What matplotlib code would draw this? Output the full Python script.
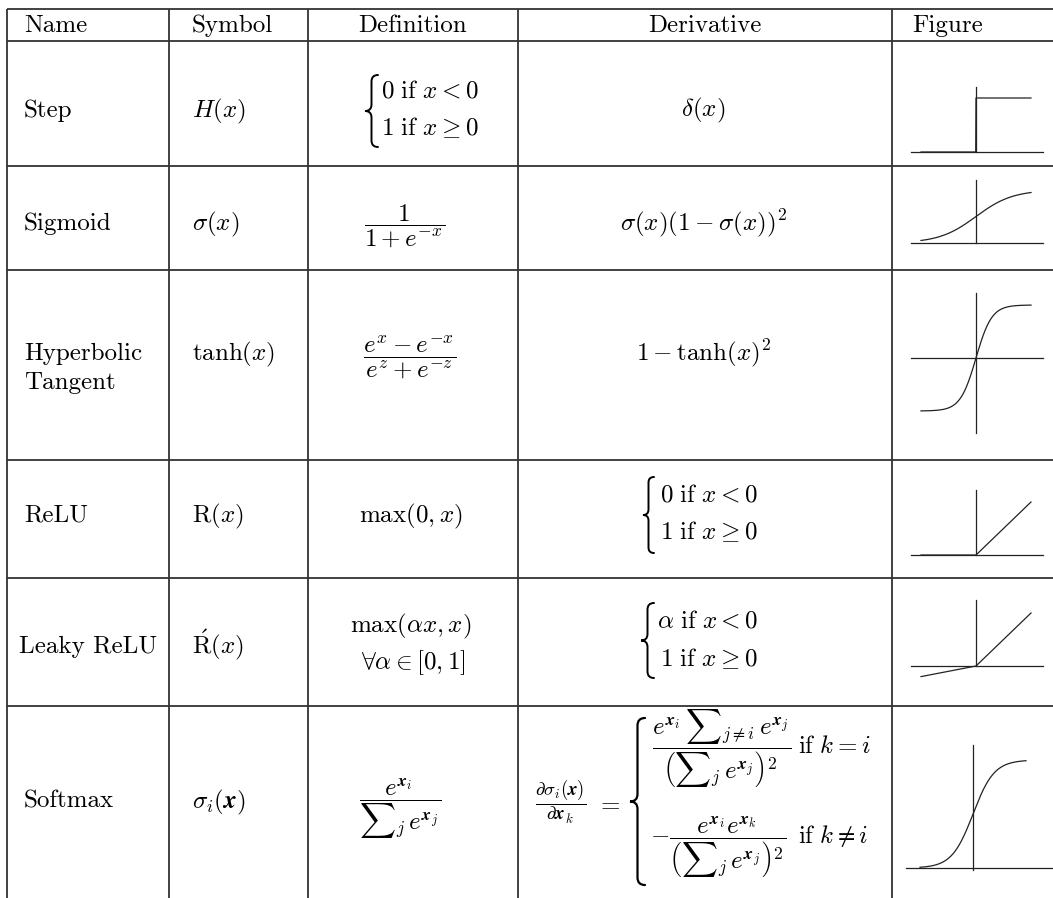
import numpy as np
import matplotlib as mpl
import matplotlib.pyplot as plt
from matplotlib.path import Path
from matplotlib.patches import PathPatch

mpl.rcParams['mathtext.fontset'] = 'cm'
mpl.rcParams['axes.unicode_minus'] = False

W, H = 1053, 898
FS = 18
INK = '#000000'
RULE = '#333333'

# table content
headers = ['Name', 'Symbol', 'Definition', 'Derivative', 'Figure']
names = ['Step', 'Sigmoid', 'Hyperbolic\nTangent', 'ReLU', 'Leaky ReLU', 'Softmax']
symbols = [r'$H(x)$', r'$\sigma(x)$', r'$\tanh(x)$', r'$\mathrm{R}(x)$',
           r'$\acute{\mathrm{R}}(x)$', r'$\sigma_i(\mathbfit{x})$']
step_def = [r'$0\ \mathrm{if}\ x < 0$', r'$1\ \mathrm{if}\ x \geq 0$']
sigmoid_def = r'$\dfrac{1}{1+e^{-x}}$'
tanh_def = r'$\dfrac{e^{x}-e^{-x}}{e^{z}+e^{-z}}$'
relu_def = r'$\max(0,x)$'
leaky_def = [r'$\max(\alpha x,x)$', r'$\forall\alpha\in[0,1]$']
softmax_def = r'$\dfrac{e^{\mathbfit{x}_i}}{{\sum}_j\, e^{\mathbfit{x}_j}}$'
step_der = r'$\delta(x)$'
sigmoid_der = r'$\sigma(x)(1-\sigma(x))^2$'
tanh_der = r'$1-\tanh(x)^2$'
relu_der = [r'$0\ \mathrm{if}\ x < 0$', r'$1\ \mathrm{if}\ x \geq 0$']
leaky_der = [r'$\alpha\ \mathrm{if}\ x < 0$', r'$1\ \mathrm{if}\ x \geq 0$']
softmax_der_lhs = r'$\dfrac{\partial\sigma_i(\mathbfit{x})}{\partial \mathbfit{x}_k}$'
softmax_der_cases = [
    r'$\dfrac{e^{\mathbfit{x}_i}\,{\sum}_{j\neq i}\, e^{\mathbfit{x}_j}}'
    r'{\left({\sum}_j\, e^{\mathbfit{x}_j}\right)^2}$',
    r'$-\dfrac{e^{\mathbfit{x}_i}e^{\mathbfit{x}_k}}'
    r'{\left({\sum}_j\, e^{\mathbfit{x}_j}\right)^2}$',
]
softmax_der_conds = [r'$\mathrm{if}\ k=i$', r'$\mathrm{if}\ k\neq i$']

# curve parameters for the little figures
SIGMOID_GAIN = 3.0
TANH_GAIN = 3.5
SOFTMAX_GAIN = 5.0
LEAKY_ALPHA = 0.2

# layout (pixels)
col_x = [7, 169, 308, 518, 892]
row_y = [9, 41, 166, 270, 460, 578, 706]
row_base = [117, 230, 360, 522, 653, 808]


fig = plt.figure(figsize=(W / 100, H / 100), dpi=100)
ax = fig.add_axes([0, 0, 1, 1])
ax.set_xlim(0, W)
ax.set_ylim(H, 0)
ax.axis('off')

ax.hlines(row_y, col_x[0], W, color=RULE, lw=1.3)
ax.vlines(col_x, row_y[0], H, color=RULE, lw=1.3)


def txt(x, y, s, ha='left', size=FS):
    ax.text(x, y, s, ha=ha, va='baseline', fontsize=size,
            fontfamily='cmr10', color=INK)


def brace(x_tip, x_end, y_top, y_bot, lw=1.4):
    xm = (x_tip + x_end) / 2
    r = x_end - xm
    ym = (y_top + y_bot) / 2
    verts = [(x_end, y_top), (xm, y_top), (xm, y_top + r),
             (xm, ym - r), (xm, ym), (x_tip, ym),
             (xm, ym), (xm, ym + r),
             (xm, y_bot - r), (xm, y_bot), (x_end, y_bot)]
    codes = [Path.MOVETO, Path.CURVE3, Path.CURVE3,
             Path.LINETO, Path.CURVE3, Path.CURVE3,
             Path.CURVE3, Path.CURVE3,
             Path.LINETO, Path.CURVE3, Path.CURVE3]
    ax.add_patch(PathPatch(Path(verts, codes), fill=False, lw=lw,
                           ec=INK, capstyle='round'))


# header
txt(24, 32, headers[0])
txt(192, 32, headers[1])
txt(413, 32, headers[2], ha='center')
txt(705, 32, headers[3], ha='center')
txt(912, 32, headers[4])

# names and symbols
for name, sym, base in zip(names, symbols, row_base):
    for k, line in enumerate(name.split('\n')):
        txt(24 if name != 'Leaky ReLU' else 19, base + 29 * k, line)
    txt(192, base, sym)

# definitions
brace(365, 378, 75, 147)
txt(381, 97, step_def[0])
txt(381, 135, step_def[1])
txt(405, 230, sigmoid_def, ha='center')
txt(410, 361, tanh_def, ha='center')
txt(411, 522, relu_def, ha='center')
txt(411, 632, leaky_def[0], ha='center')
txt(413, 669, leaky_def[1], ha='center')
txt(400, 805, softmax_def, ha='center')

# derivatives
txt(703, 116, step_der, ha='center')
txt(703, 230, sigmoid_der, ha='center')
txt(704, 360, tanh_der, ha='center')
brace(643, 654, 477, 553)
txt(660, 502, relu_der[0])
txt(660, 539, relu_der[1])
brace(641, 654, 603, 678)
txt(657, 628, leaky_der[0])
txt(660, 666, leaky_der[1])

txt(561, 810, softmax_der_lhs, ha='center', size=13.5)
txt(608, 810, r'$=$', ha='center')
brace(630, 645, 718, 885, lw=1.6)
txt(652, 753, softmax_der_cases[0])
txt(650, 843, softmax_der_cases[1])
txt(798, 753, softmax_der_conds[0])
txt(798, 843, softmax_der_conds[1])

# little function sketches
xs = np.linspace(-1, 1, 401)
curves = [
    np.where(xs < 0, 0.0, 1.0),
    1 / (1 + np.exp(-SIGMOID_GAIN * xs)),
    np.tanh(TANH_GAIN * xs),
    np.maximum(0, xs),
    np.where(xs < 0, LEAKY_ALPHA * xs, xs),
    1 / (1 + np.exp(-SOFTMAX_GAIN * xs)),
]
# origin px, unit px (x, y), horizontal axis extent, vertical axis extent (data units)
sketch_frames = [
    ((976, 152), (55, 54), (-1.18, 1.22), (0, 1.2)),
    ((976, 243), (55, 53), (-1.18, 1.22), (0, 1.19)),
    ((976, 358), (55, 53), (-1.18, 1.22), (-1.42, 1.23)),
    ((976, 555), (55, 53), (-1.18, 1.22), (0, 1.23)),
    ((976, 666), (55, 53), (-1.18, 1.22), (0, 1.25)),
    ((973, 868), (53, 108), (-1.26, 1.52), (-0.02, 1.14)),
]

for ys, ((ox, oy), (ux, uy), hx, vy) in zip(curves, sketch_frames):
    x0 = ox + (hx[0] - 0.05) * ux
    x1 = ox + (hx[1] + 0.05) * ux
    ylo = min(vy[0], ys.min()) - 0.05
    yhi = vy[1] + 0.05
    sub = fig.add_axes([x0 / W, 1 - (oy - ylo * uy) / H,
                        (x1 - x0) / W, (yhi - ylo) * uy / H])
    sub.set_xlim((x0 - ox) / ux, (x1 - ox) / ux)
    sub.set_ylim(ylo, yhi)
    sub.axis('off')
    sub.plot(hx, [0, 0], color='#222222', lw=0.9)
    sub.plot([0, 0], vy, color='#222222', lw=0.9)
    sub.plot(xs, ys, color='#222222', lw=0.9)

fig.savefig('out.png', dpi=100)
